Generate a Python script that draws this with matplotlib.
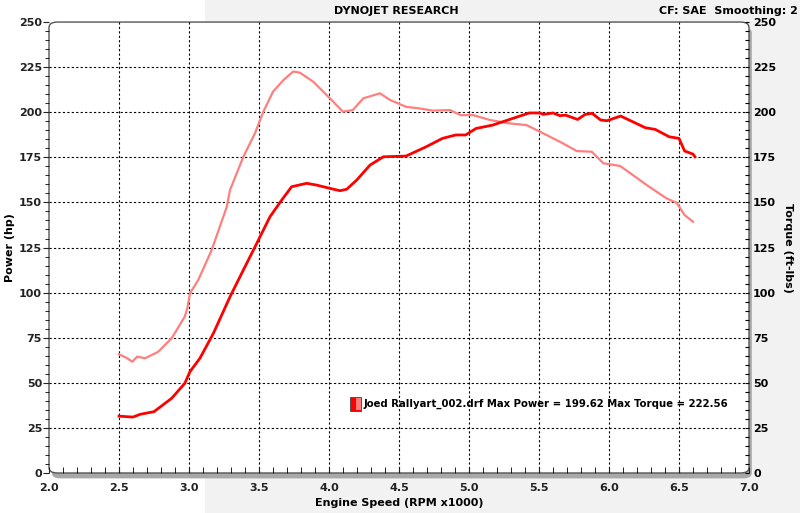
import numpy as np
import matplotlib.pyplot as plt
from matplotlib.patches import FancyBboxPatch, Rectangle

# Dyno run values
rpm_torque = [2.5, 2.55, 2.595, 2.63, 2.686, 2.78, 2.876, 2.97, 2.988, 3.007, 3.066, 3.162,
              3.22, 3.27, 3.293, 3.388, 3.471, 3.531, 3.60, 3.674, 3.745, 3.793, 3.888,
              4.007, 4.1, 4.17, 4.245, 4.364, 4.436, 4.55, 4.64, 4.74, 4.864, 4.94, 5.03,
              5.15, 5.29, 5.41, 5.507, 5.65, 5.77, 5.877, 5.96, 6.08, 6.17, 6.27, 6.41,
              6.483, 6.54, 6.6]
torque = [65.8, 64.0, 61.7, 64.5, 63.6, 67.2, 74.7, 86.7, 91.3, 99.6, 107.0, 123.6,
          136.5, 147.6, 156.9, 175.3, 188.3, 200.3, 211.4, 217.8, 222.6, 221.9, 216.9,
          207.7, 200.3, 201.2, 207.7, 210.5, 206.8, 203.0, 202.2, 200.9, 201.2, 198.4, 198.4,
          195.7, 193.8, 192.9, 189.2, 183.6, 178.5, 178.1, 171.7, 170.2, 165.2, 159.6, 152.3,
          149.8, 143.0, 139.3]

rpm_power = [2.5, 2.6, 2.65, 2.75, 2.876, 2.97, 3.007, 3.078, 3.174, 3.293, 3.388, 3.484,
             3.578, 3.662, 3.733, 3.84, 3.912, 4.007, 4.078, 4.126, 4.198, 4.293, 4.388,
             4.55, 4.69, 4.81, 4.905, 4.976, 5.05, 5.17, 5.29, 5.43, 5.507, 5.53, 5.6,
             5.65, 5.69, 5.776, 5.83, 5.88, 5.94, 5.986, 6.083, 6.17, 6.26, 6.33, 6.43,
             6.5, 6.54, 6.6, 6.614]
power = [31.5, 31.0, 32.5, 34.0, 41.4, 49.7, 56.2, 63.6, 77.4, 97.7, 112.5, 127.3,
         142.0, 151.3, 158.7, 160.6, 159.6, 157.8, 156.5, 157.3, 162.4, 170.7, 175.3,
         175.7, 180.7, 185.5, 187.4, 187.4, 191.0, 192.9, 196.0, 199.6, 199.6, 198.8, 199.6,
         198.1, 198.4, 196.0, 198.8, 199.4, 195.7, 195.3, 197.9, 194.7, 191.4, 190.5, 186.4,
         185.5, 178.5, 176.8, 175.3]

x_ticks = [2.0, 2.5, 3.0, 3.5, 4.0, 4.5, 5.0, 5.5, 6.0, 6.5, 7.0]
y_ticks = list(range(0, 251, 25))
legend_text = "Joed Rallyart_002.drf Max Power = 199.62 Max Torque = 222.56"

power_col = "#ff0000"
torque_col = "#ff7f7f"

fig = plt.figure(figsize=(8, 5.13), dpi=100, facecolor="white")
fig.patches.append(Rectangle((0.256, 0), 0.744, 1, transform=fig.transFigure,
                             facecolor="#f2f2f2", edgecolor="none", zorder=-10))

ax = fig.add_axes([0.06125, 0.078, 0.875, 0.879])
ax.set_xlim(2.0, 7.0)
ax.set_ylim(0, 250)
ax.patch.set_alpha(0)
for s in ax.spines.values():
    s.set_visible(False)

# rounded frame with grey shadow on right/bottom
shadow = FancyBboxPatch((0.004, -0.012), 1.0, 1.0, boxstyle="round,pad=0,rounding_size=0.012",
                        transform=ax.transAxes, facecolor="#a8a8a8", edgecolor="none",
                        zorder=0, clip_on=False)
frame = FancyBboxPatch((0, 0), 1.0, 1.0, boxstyle="round,pad=0,rounding_size=0.012",
                       transform=ax.transAxes, facecolor="white", edgecolor="#555555",
                       linewidth=1.0, zorder=0.5, clip_on=False)
ax.add_patch(shadow)
ax.add_patch(frame)

for xv in x_ticks[1:-1]:
    ax.axvline(xv, color="black", linestyle=(0, (2, 2)), linewidth=0.8, zorder=1)
for yv in y_ticks[1:-1]:
    ax.axhline(yv, color="black", linestyle=(0, (2, 2)), linewidth=0.8, zorder=1)

ax.plot(rpm_torque, torque, color=torque_col, linewidth=1.6, zorder=3)
ax.plot(rpm_power, power, color=power_col, linewidth=2.0, zorder=4)

ax.set_xticks(x_ticks)
ax.set_xticklabels([f"{v:.1f}" for v in x_ticks])
ax.set_xticks(np.arange(2.0, 7.01, 0.1), minor=True)
ax.set_yticks(y_ticks)
ax.set_yticks(np.arange(0, 251, 5), minor=True)
ax.tick_params(axis="both", labelsize=8, colors="#222222", length=4, width=0.8, pad=1)
ax.tick_params(axis="x", which="both", direction="in", length=4, pad=7)
ax.tick_params(axis="y", which="minor", length=3, direction="out")
for lab in ax.get_xticklabels() + ax.get_yticklabels():
    lab.set_fontweight("bold")

ax2 = ax.twinx()
ax2.set_ylim(0, 250)
for s in ax2.spines.values():
    s.set_visible(False)
ax2.set_yticks(y_ticks)
ax2.set_yticks(np.arange(0, 251, 5), minor=True)
ax2.tick_params(axis="y", which="both", direction="in", length=3, width=0.8, labelsize=8, pad=3)
for lab in ax2.get_yticklabels():
    lab.set_fontweight("bold")

ax.set_xlabel("Engine Speed (RPM x1000)", fontsize=8, fontweight="bold", labelpad=4)
ax.set_ylabel("Power (hp)", fontsize=8, fontweight="bold", labelpad=3)
ax2.set_ylabel("Torque (ft-lbs)", fontsize=8, fontweight="bold", rotation=-90, labelpad=12)

fig.text(0.495, 0.988, "DYNOJET RESEARCH", ha="center", va="top", fontsize=8, fontweight="bold")
fig.text(0.997, 0.988, "CF: SAE  Smoothing: 2", ha="right", va="top", fontsize=8, fontweight="bold")

# legend swatch + text
ax.add_patch(Rectangle((4.15, 34.5), 0.08, 7.5, facecolor=power_col, edgecolor="#444444",
                       linewidth=0.6, zorder=5))
ax.add_patch(Rectangle((4.19, 34.9), 0.037, 6.7, facecolor=torque_col, edgecolor="none", zorder=6))
ax.text(4.245, 38.3, legend_text, fontsize=7.3, fontweight="bold", va="center", ha="left", zorder=6)

fig.savefig("out.png", dpi=100)
